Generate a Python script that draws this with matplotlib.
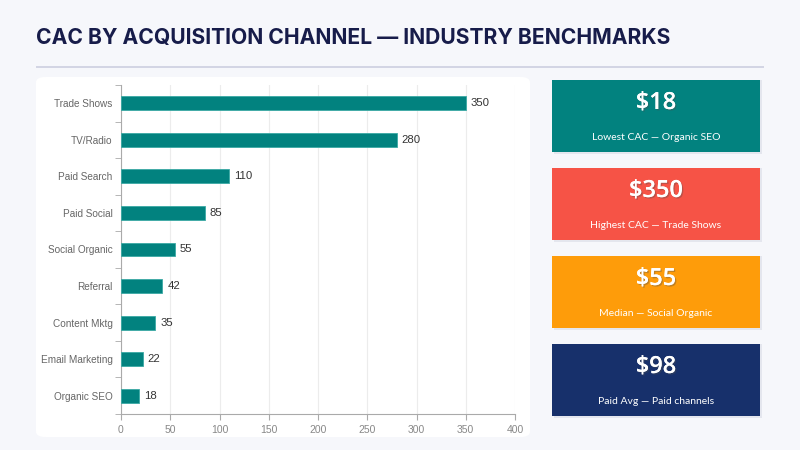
import matplotlib
matplotlib.use("Agg")
import matplotlib.pyplot as plt
from matplotlib.patches import FancyBboxPatch, Rectangle
import matplotlib.patheffects as pe

channels = ["Trade Shows", "TV/Radio", "Paid Search", "Paid Social", "Social Organic",
            "Referral", "Content Mktg", "Email Marketing", "Organic SEO"]
cac = [350, 280, 110, 85, 55, 42, 35, 22, 18]
x_ticks = [0, 50, 100, 150, 200, 250, 300, 350, 400]

card_values = ["$18", "$350", "$55", "$98"]
card_labels = ["Lowest CAC \u2014 Organic SEO", "Highest CAC \u2014 Trade Shows",
               "Median \u2014 Social Organic", "Paid Avg \u2014 Paid channels"]
card_colors = ["#02827f", "#f65346", "#fe9c0a", "#17306b"]

W, H = 800, 450
fig = plt.figure(figsize=(8, 4.5), dpi=100)
fig.patch.set_facecolor("#f6f7fb")

def fx(px):
    return px / W

def fy(py):
    return 1 - py / H

# title and rule
fig.text(fx(36), fy(38), "CAC BY ACQUISITION CHANNEL \u2014 INDUSTRY BENCHMARKS",
         family="Inter", weight="bold", fontsize=15.2, color="#171c4a", va="center", ha="left")
fig.add_artist(Rectangle((fx(36), fy(68)), fx(764) - fx(36), 2 / H, transform=fig.transFigure,
                         facecolor="#d3d5e4", edgecolor="none", zorder=0))

# chart panel
fig.add_artist(FancyBboxPatch((fx(36), fy(437)), fx(530) - fx(36), fy(77) - fy(437),
                              boxstyle="round,pad=0,rounding_size=0.012",
                              transform=fig.transFigure, facecolor="white", edgecolor="none",
                              zorder=0))

ax = fig.add_axes([fx(121), fy(414), fx(515) - fx(121), fy(85) - fy(414)])
ax.set_zorder(2)
ax.set_facecolor("white")
ypos = list(range(len(channels)))
ax.barh(ypos, cac, height=0.38, color="#02827f", edgecolor="#3aa9a4", linewidth=0.6, zorder=3)
for y, v in zip(ypos, cac):
    ax.text(v + 5, y, str(v), va="center", ha="left", fontsize=8.2, color="#333333",
            family="Liberation Sans")
ax.set_xlim(0, 400)
ax.set_ylim(len(channels) - 0.5, -0.5)
ax.set_xticks(x_ticks)
ax.set_xticklabels([str(t) for t in x_ticks], family="Liberation Sans", fontsize=7.5, color="#888888")
ax.set_yticks(ypos)
ax.set_yticklabels(channels, family="Liberation Sans", fontsize=7.2, color="#666666")
ax.set_yticks([i - 0.5 for i in range(len(channels) + 1)], minor=True)
ax.tick_params(axis="y", which="major", length=0, pad=6)
ax.tick_params(axis="y", which="minor", length=4, color="#aaaaaa")
ax.tick_params(axis="x", length=4, color="#aaaaaa", pad=4)
ax.grid(axis="x", color="#ececec", linewidth=0.8, zorder=0)
for s in ["top", "right"]:
    ax.spines[s].set_visible(False)
for s in ["left", "bottom"]:
    ax.spines[s].set_color("#aaaaaa")
    ax.spines[s].set_linewidth(0.8)

# KPI cards
card_tops = [80, 168, 256, 344]
for top, val, lab, col in zip(card_tops, card_values, card_labels, card_colors):
    fig.add_artist(Rectangle((fx(554), fy(top + 74)), fx(762) - fx(554), 74 / H,
                             transform=fig.transFigure, facecolor="#e4e6ee", edgecolor="none"))
    fig.add_artist(Rectangle((fx(552), fy(top + 72)), fx(760) - fx(552), 72 / H,
                             transform=fig.transFigure, facecolor=col, edgecolor="none"))
    t = fig.text(fx(656), fy(top + 23), val, family="Open Sans", weight="semibold", fontsize=17,
                 color="white", ha="center", va="center")
    t.set_path_effects([pe.withSimplePatchShadow(offset=(1, -1), alpha=0.35), pe.Normal()])
    fig.text(fx(656), fy(top + 57), lab, family="Lato", fontsize=7.5, color="white",
             ha="center", va="center")

fig.savefig("out.png", dpi=100, facecolor=fig.get_facecolor())
